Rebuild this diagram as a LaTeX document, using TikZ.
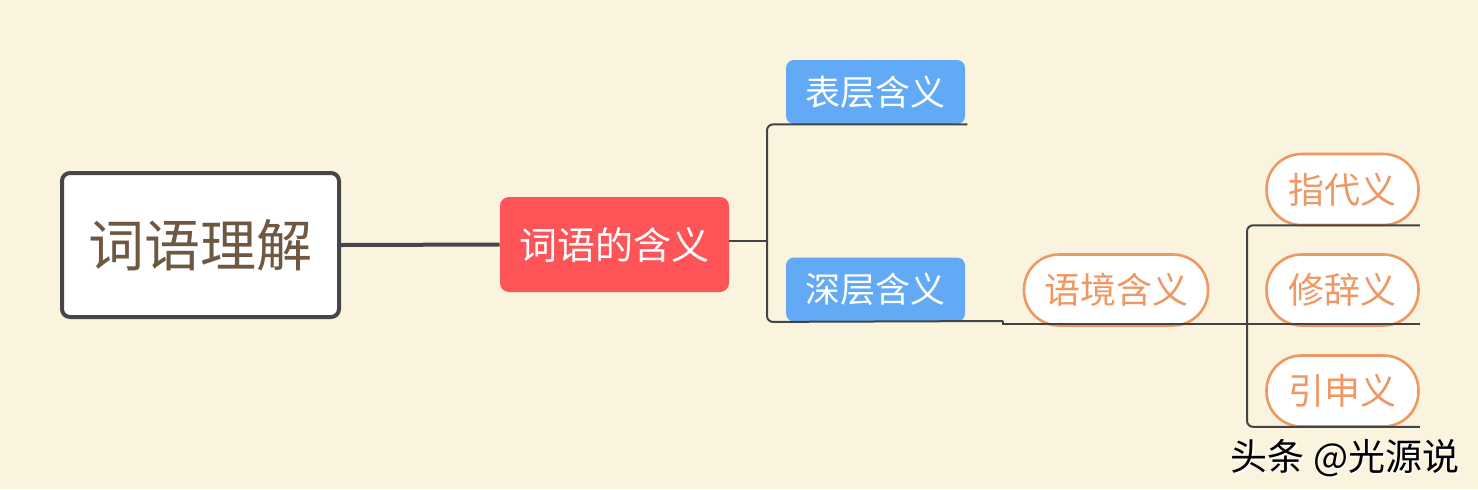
\documentclass[tikz,border=0pt]{standalone}
\usepackage{fontspec}
\setmainfont{Noto Sans CJK SC}
\usetikzlibrary{calc}
\definecolor{paper}{RGB}{250,243,221}
\definecolor{rootline}{RGB}{70,70,72}
\definecolor{rootink}{RGB}{110,88,66}
\definecolor{mainred}{RGB}{255,84,87}
\definecolor{subblue}{RGB}{99,170,246}
\definecolor{leaforange}{RGB}{238,152,100}
\definecolor{branchgray}{RGB}{64,68,70}
\tikzset{
  topic/.style={draw=rootline, line width=2pt, fill=white, rounded corners=4pt,
    text=rootink, inner sep=0pt, minimum width=138.5pt, minimum height=72pt,
    font=\fontsize{28}{32}\selectfont},
  main/.style={fill=mainred, rounded corners=4.5pt, text=white, inner sep=0pt,
    minimum width=114.5pt, minimum height=47.5pt, font=\fontsize{19}{22}\selectfont},
  sub/.style={fill=subblue, rounded corners=4pt, text=white, inner sep=0pt,
    minimum width=89.5pt, minimum height=32pt, font=\fontsize{17.5}{20}\selectfont},
  leaf/.style={draw=leaforange, line width=1.3pt, fill=white, rounded corners=17.5pt,
    text=leaforange, inner sep=0pt, minimum height=35.5pt,
    font=\fontsize{18}{21}\selectfont},
  branch/.style={draw=branchgray, line width=1pt},
  trunk/.style={draw=rootline, line width=2pt}
}
\begin{document}
\begin{tikzpicture}[x=0.5pt,y=-0.5pt]
  \fill[paper] (0,0) rectangle (1478,489);
  \useasboundingbox (0,0) rectangle (1478,489);

  % nodes
  \node[topic] (root) at (200.5,245) {词语理解};
  \node[main] (meaning) at (614.5,244.5) {词语的含义};
  \node[sub] (surface) at (875.5,92) {表层含义};
  \node[sub] (deep) at (875.5,289.5) {深层含义};
  \node[leaf, minimum width=92pt] (context) at (1116,290) {语境含义};
  \node[leaf, minimum width=76pt] (refer) at (1342.5,189.5) {指代义};
  \node[leaf, minimum width=76pt] (rhetoric) at (1342.5,290) {修辞义};
  \node[leaf, minimum width=76pt] (extend) at (1342.5,391) {引申义};

  \coordinate (fork1) at (767,241);
  \coordinate (step1) at (1003,321);
  \coordinate (fork2) at (1247,324);

  % connectors
  \draw[trunk] (root.east) -- (meaning.west);
  \draw[branch] (meaning.east |- fork1) -- (fork1);
  \draw[branch, rounded corners=3pt] ([xshift=1pt]surface.south east) -- (fork1 |- surface.south)
    -- (fork1 |- deep.south) -- (step1);
  \draw[branch] (step1) -- ++(0,3) -- (fork2);
  \draw[branch, rounded corners=3pt] ([yshift=0.5pt]refer.south east) -- ([yshift=0.5pt]fork2 |- refer.south)
    -- ([yshift=0.5pt]fork2 |- extend.south) -- ([yshift=0.5pt]extend.south east);
  \draw[branch] (fork2) -- (fork2 -| rhetoric.east);

  % watermark
  \node[text=white, font=\fontsize{18.5}{22}\selectfont] at (1346.5,460) {头条 @光源说};
  \node[text=black, font=\fontsize{18.5}{22}\selectfont] (mark) at (1345,458.5) {头条 @光源说};
\end{tikzpicture}
\end{document}
